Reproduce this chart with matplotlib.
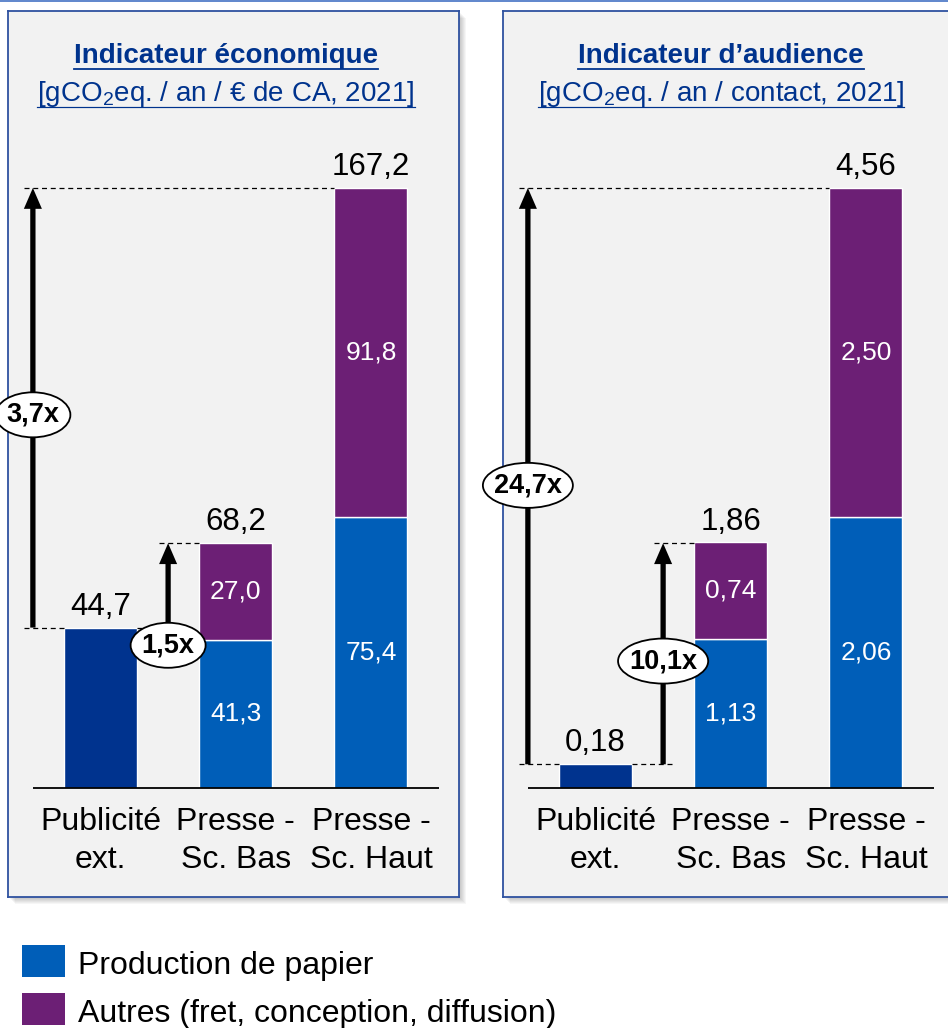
import matplotlib
matplotlib.use("Agg")
import matplotlib.pyplot as plt
import matplotlib.transforms as mtransforms
from matplotlib.patches import Ellipse, Rectangle, FancyArrowPatch, ArrowStyle
from matplotlib.lines import Line2D

plt.rcParams["font.family"] = ["Liberation Sans", "DejaVu Sans"]
plt.rcParams["mathtext.fontset"] = "custom"
plt.rcParams["mathtext.rm"] = "Liberation Sans"
plt.rcParams["mathtext.it"] = "Liberation Sans:italic"
plt.rcParams["mathtext.bf"] = "Liberation Sans:bold"

# ---------------- data ----------------
categories = ["Publicité\next.", "Presse -\nSc. Bas", "Presse -\nSc. Haut"]
series_names = ["Production de papier", "Autres (fret, conception, diffusion)"]

eco_title = "Indicateur économique"
eco_unit = "[gCO$_2$eq. / an / € de CA, 2021]"
eco_outdoor = 44.7
eco_paper = [41.3, 75.4]
eco_other = [27.0, 91.8]
eco_totals = [68.2, 167.2]
eco_ratios = ["1,5x", "3,7x"]

aud_title = "Indicateur d’audience"
aud_unit = "[gCO$_2$eq. / an / contact, 2021]"
aud_outdoor = 0.18
aud_paper = [1.13, 2.06]
aud_other = [0.74, 2.50]
aud_totals = [1.86, 4.56]
aud_ratios = ["10,1x", "24,7x"]

# ---------------- style ----------------
C_OUTDOOR = "#00338E"
C_PAPER = "#005EB8"
C_OTHER = "#6C1F75"
C_TITLE = "#00338D"
C_PANEL = "#F2F2F2"
C_BORDER = "#2F52A0"

W, H, DPI = 948, 1028, 100
PANEL_TOP, PANEL_BOTTOM, PANEL_W = 11, 897, 451
PANEL_H = PANEL_BOTTOM - PANEL_TOP
BAR_W = 0.54

fig = plt.figure(figsize=(W / DPI, H / DPI), dpi=DPI)
fig.patch.set_facecolor("white")

# thin rule along the top edge
fig.add_artist(Line2D([0, W], [H - 0.8, H - 0.8], transform=mtransforms.IdentityTransform(),
                      color="#4472C4", lw=1.2))


def fmt(v, decimals):
    return f"{v:.{decimals}f}".replace(".", ",")


def draw_panel(px_left, title, unit, outdoor, paper, other, totals, ratios,
               decimals, ratio_pos):
    # soft drop shadow
    for k in range(1, 8):
        fig.add_artist(Rectangle((px_left + k, H - PANEL_BOTTOM - k), PANEL_W, PANEL_H,
                                 transform=mtransforms.IdentityTransform(),
                                 facecolor="black", alpha=0.035, lw=0, zorder=-1))

    ax = fig.add_axes([px_left / W, 1 - PANEL_BOTTOM / H, PANEL_W / W, PANEL_H / H])
    ax.set_facecolor(C_PANEL)
    for s in ax.spines.values():
        s.set_color(C_BORDER)
        s.set_linewidth(1.3)
        s.set_zorder(1)
    ax.set_xticks([])
    ax.set_yticks([])

    top = max(totals)
    ax.set_xlim(-0.684, 2.651)
    ax.set_ylim(-0.1817 * top, 1.295 * top)

    # bars
    ax.bar(0, outdoor, width=BAR_W, color=C_OUTDOOR, edgecolor="white", lw=1.0, zorder=2)
    xs = [1, 2]
    ax.bar(xs, paper, width=BAR_W, color=C_PAPER, edgecolor="white", lw=1.0, zorder=2)
    ax.bar(xs, other, width=BAR_W, bottom=paper, color=C_OTHER, edgecolor="white",
           lw=1.0, zorder=2)

    # baseline
    ax.plot([-0.5, 2.5], [0, 0], color="black", lw=1.3, zorder=3, solid_capstyle="butt")

    # segment labels
    for x, p, o in zip(xs, paper, other):
        ax.text(x, p / 2, fmt(p, decimals), color="white", ha="center", va="center",
                fontsize=19, zorder=4)
        ax.text(x, p + o / 2, fmt(o, decimals), color="white", ha="center", va="center",
                fontsize=19, zorder=4)

    # totals above bars
    ax.annotate(fmt(outdoor, decimals), (0, outdoor), xytext=(0, 9.4),
                textcoords="offset points", ha="center", va="baseline", fontsize=22.5)
    for x, t in zip(xs, totals):
        ax.annotate(fmt(t, decimals), (x, t), xytext=(0, 9.4),
                    textcoords="offset points", ha="center", va="baseline", fontsize=22.5)

    # category labels
    for i, cat in enumerate(categories):
        for j, line in enumerate(cat.split("\n")):
            ax.annotate(line, (i, 0), xytext=(0, -30.2 - 27.4 * j),
                        textcoords="offset points", ha="center", va="baseline",
                        fontsize=23)

    # comparison arrows
    ax.plot([-0.565, -BAR_W / 2], [outdoor, outdoor], color="black", lw=0.9,
            ls=(0, (4, 3)), zorder=3)
    ax.plot([BAR_W / 2, 0.57], [outdoor, outdoor], color="black", lw=0.9,
            ls=(0, (4, 3)), zorder=3)
    renderer = fig.canvas.get_renderer()
    for i, (t, lab, pos) in enumerate(zip(totals, ratios, ratio_pos)):
        xa = 0.5 - i
        ax.plot([xa - 0.065, xs[i] - BAR_W / 2], [t, t], color="black", lw=0.9,
                ls=(0, (4, 3)), zorder=3)
        arr = FancyArrowPatch((xa, outdoor), (xa, t),
                              arrowstyle=ArrowStyle.Simple(head_length=1.5,
                                                           head_width=1.3,
                                                           tail_width=0.38),
                              mutation_scale=10, shrinkA=0, shrinkB=0,
                              color="black", lw=0, zorder=4)
        ax.add_patch(arr)
        yl = outdoor + pos * (t - outdoor)
        txt = ax.text(xa, yl, lab, ha="center", va="center", fontsize=19.5,
                      fontweight="bold", zorder=7, clip_on=False)
        bb = txt.get_window_extent(renderer)
        ew = (bb.width + 22) / DPI
        eh = 45 / DPI
        trans = fig.dpi_scale_trans + mtransforms.ScaledTranslation(xa, yl, ax.transData)
        ax.add_patch(Ellipse((0, 0), ew, eh, transform=trans, facecolor="white",
                             edgecolor="black", lw=1.3, zorder=6, clip_on=False))

    # title and unit, underlined
    for text, yfrac, weight, ul_off, ul_w in [(title, 0.9413, "bold", 5.5, 1.8),
                                               (unit, 0.8984, "normal", 6.0, 1.2)]:
        t = ax.text(0.483, yfrac, text, transform=ax.transAxes, ha="center",
                    va="baseline", fontsize=20, fontweight=weight, color=C_TITLE)
        bb = t.get_window_extent(renderer)
        yb = ax.transAxes.transform((0, yfrac))[1] - ul_off
        fig.add_artist(Line2D([bb.x0, bb.x1], [yb, yb],
                              transform=mtransforms.IdentityTransform(),
                              color=C_TITLE, lw=ul_w * 72 / DPI))
    return ax


draw_panel(8, eco_title, eco_unit, eco_outdoor, eco_paper, eco_other, eco_totals,
           eco_ratios, 1, [-0.21, 0.484])
draw_panel(503, aud_title, aud_unit, aud_outdoor, aud_paper, aud_other, aud_totals,
           aud_ratios, 2, [0.467, 0.484])

# legend
for k, (name, col) in enumerate(zip(series_names, [C_PAPER, C_OTHER])):
    ytop = 945 + 48 * k
    fig.add_artist(Rectangle((22, H - ytop - 32), 43, 32,
                             transform=mtransforms.IdentityTransform(),
                             facecolor=col, lw=0))
    fig.text(78 / W, 1 - (974 + 48 * k) / H, name, ha="left", va="baseline",
             fontsize=23, color="black")

fig.savefig("out.png", dpi=DPI)
